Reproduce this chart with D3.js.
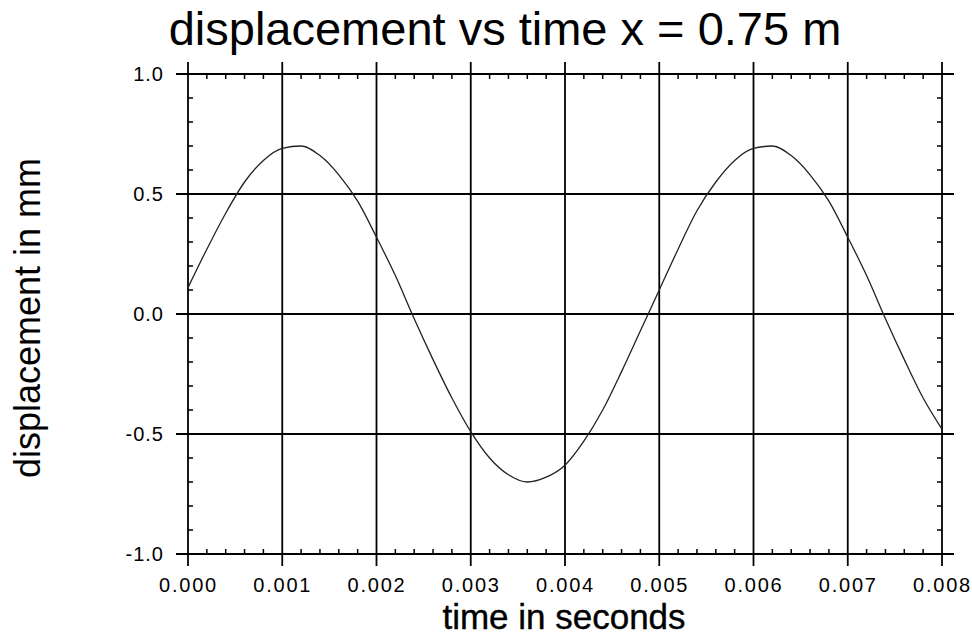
<!DOCTYPE html>
<html>
<head>
<meta charset="utf-8">
<script src="https://cdnjs.cloudflare.com/ajax/libs/d3/7.8.5/d3.min.js"></script>
<style>
  body { margin: 0; background: #fff; }
  svg text { font-family: "Liberation Sans", Arial, sans-serif; fill: #000; }
</style>
</head>
<body>
<div id="chart"></div>
<script>
// time in seconds (every 0.0002 s)
const times = [0, 0.0002, 0.0004, 0.0006, 0.0008, 0.0010, 0.0012, 0.0014, 0.0016, 0.0018,
  0.0020, 0.0022, 0.0024, 0.0026, 0.0028, 0.0030, 0.0032, 0.0034, 0.0036, 0.0038,
  0.0040, 0.0042, 0.0044, 0.0046, 0.0048, 0.0050, 0.0052, 0.0054, 0.0056, 0.0058,
  0.0060, 0.0062, 0.0064, 0.0066, 0.0068, 0.0070, 0.0072, 0.0074, 0.0076, 0.0078, 0.0080];
// displacement in mm
const displacement = [0.11, 0.27, 0.42, 0.55, 0.64, 0.69, 0.70, 0.66, 0.58, 0.47,
  0.32, 0.16, -0.02, -0.19, -0.35, -0.49, -0.60, -0.67, -0.70, -0.68,
  -0.63, -0.53, -0.40, -0.24, -0.07, 0.10, 0.27, 0.43, 0.55, 0.64,
  0.69, 0.70, 0.66, 0.58, 0.47, 0.32, 0.16, -0.02, -0.19, -0.35, -0.48];
const xTicks = [0, 0.001, 0.002, 0.003, 0.004, 0.005, 0.006, 0.007, 0.008];
const yTicks = [-1.0, -0.5, 0.0, 0.5, 1.0];

const width = 972, height = 635;
const plotLeft = 188, plotRight = 942, plotTop = 74, plotBottom = 554;
const overhang = 12;

const svg = d3.select("#chart").append("svg")
  .attr("width", width).attr("height", height);

const x = d3.scaleLinear().domain([0, 0.008]).range([plotLeft, plotRight]);
const y = d3.scaleLinear().domain([-1, 1]).range([plotBottom, plotTop]);

// minor ticks
const xMinor = d3.range(0, 41).map(i => i * 0.0002).filter((v, i) => i % 5 !== 0);
const yMinor = d3.range(-10, 11).map(i => i / 10).filter((v, i) => i % 5 !== 0);

const minor = svg.append("g").attr("stroke", "#000").attr("stroke-width", 1.5);
minor.selectAll(".xb").data(xMinor).enter().append("line")
  .attr("x1", d => x(d)).attr("x2", d => x(d))
  .attr("y1", plotBottom).attr("y2", plotBottom - 5);
minor.selectAll(".xt").data(xMinor).enter().append("line")
  .attr("x1", d => x(d)).attr("x2", d => x(d))
  .attr("y1", plotTop).attr("y2", plotTop + 5);
minor.selectAll(".yl").data(yMinor).enter().append("line")
  .attr("x1", plotLeft).attr("x2", plotLeft + 5)
  .attr("y1", d => y(d)).attr("y2", d => y(d));
minor.selectAll(".yr").data(yMinor).enter().append("line")
  .attr("x1", plotRight).attr("x2", plotRight - 5)
  .attr("y1", d => y(d)).attr("y2", d => y(d));

// grid lines (they run past the frame a little)
const grid = svg.append("g").attr("stroke", "#000").attr("stroke-width", 1.8);
grid.selectAll(".vx").data(xTicks).enter().append("line")
  .attr("x1", d => x(d)).attr("x2", d => x(d))
  .attr("y1", plotTop - overhang).attr("y2", plotBottom + overhang);
grid.selectAll(".hy").data(yTicks).enter().append("line")
  .attr("x1", plotLeft - overhang).attr("x2", plotRight + overhang)
  .attr("y1", d => y(d)).attr("y2", d => y(d));

// tick labels (plain hyphen for the minus, like the original)
const fmtY = v => d3.format(".1f")(v).replace("\u2212", "-");
const xAxis = d3.axisBottom(x).tickValues(xTicks).tickFormat(d3.format(".3f"))
  .tickSize(0).tickPadding(24);
svg.append("g").attr("transform", "translate(0," + plotBottom + ")").call(xAxis)
  .call(g => g.select(".domain").remove())
  .selectAll("text")
    .attr("font-family", "Liberation Sans, Arial, sans-serif")
    .attr("font-size", 20).attr("letter-spacing", "1.8px").attr("fill", "#000");

const yAxis = d3.axisLeft(y).tickValues(yTicks).tickFormat(fmtY)
  .tickSize(0).tickPadding(24);
svg.append("g").attr("transform", "translate(" + plotLeft + ",0)").call(yAxis)
  .call(g => g.select(".domain").remove())
  .selectAll("text")
    .attr("font-family", "Liberation Sans, Arial, sans-serif")
    .attr("font-size", 20).attr("letter-spacing", "1px").attr("fill", "#000");

// curve
const pts = times.map((t, i) => [t, displacement[i]]);
const line = d3.line().x(d => x(d[0])).y(d => y(d[1])).curve(d3.curveMonotoneX);
svg.append("path").datum(pts)
  .attr("d", line)
  .attr("fill", "none").attr("stroke", "#222").attr("stroke-width", 1.3);

// titles
svg.append("text").attr("x", 505).attr("y", 45)
  .attr("text-anchor", "middle").attr("font-size", 47)
  .text("displacement vs time x = 0.75 m");

svg.append("text").attr("transform", "translate(40,318) rotate(-90)")
  .attr("text-anchor", "middle").attr("font-size", 36)
  .text("displacement in mm");

svg.append("text").attr("x", 564).attr("y", 629)
  .attr("text-anchor", "middle").attr("font-size", 35)
  .attr("stroke", "#000").attr("stroke-width", 0.4)
  .text("time in seconds");
</script>
</body>
</html>
